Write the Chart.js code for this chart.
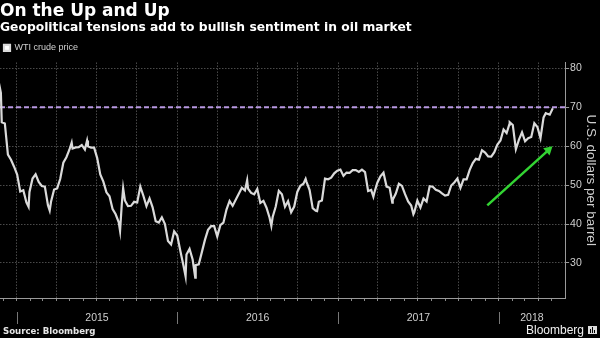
<!DOCTYPE html>
<html>
<head>
<meta charset="utf-8">
<script src="https://cdn.jsdelivr.net/npm/chart.js@4.4.1/dist/chart.umd.min.js"></script>
<style>
    html, body { margin: 0; padding: 0; background: #000; }
    #wrap { width: 600px; height: 338px; }
</style>
</head>
<body>
<div id="wrap"><canvas id="oilChart" width="600" height="338"></canvas></div>
<script>
// WTI crude, weekly closes starting Friday 21 Nov 2014
const weekStart = '2014-11-21';
const weeklyPrices = [
    76.51, 66.15, 65.84, 57.81, 56.52, 54.73,
    // 2015
    52.69, 48.36, 48.69, 45.59, 48.24, 51.69, 52.78, 50.81, 49.76, 49.61, 44.84, 45.72, 48.87,
    49.14, 51.64, 55.74, 57.15, 59.15, 59.39, 59.69, 59.72, 60.30, 59.13, 59.96, 59.61, 59.63,
    56.93, 52.74, 50.89, 48.14, 47.12, 43.87, 42.50, 40.45, 45.22, 46.05, 44.63, 44.68, 45.70,
    45.54, 49.63, 47.26, 44.60, 46.59, 44.29, 40.74, 40.39, 41.71, 39.97, 35.62, 34.73, 38.10,
    // 2016
    37.04, 33.16, 29.42, 32.19, 33.62, 30.89, 29.44, 29.64, 32.78, 35.92, 38.50, 39.44, 39.46,
    36.79, 39.72, 40.36, 43.73, 45.92, 44.66, 46.21, 47.75, 49.33, 48.62, 49.07, 47.98, 47.64,
    48.99, 45.41, 45.95, 44.19, 41.60, 41.80, 44.49, 48.52, 47.64, 44.44, 45.88, 43.03, 44.48,
    48.24, 49.81, 50.35, 50.85, 48.70, 44.07, 43.41, 45.69, 46.06, 51.68, 51.50, 51.90, 53.02, 53.72,
    // 2017
    53.99, 52.37, 53.22, 53.17, 53.83, 53.86, 53.40, 53.99, 53.33, 48.49, 48.78, 47.97, 50.60,
    52.24, 53.18, 49.62, 49.33, 46.22, 47.84, 50.33, 49.80, 47.66, 45.83, 44.74, 43.01, 46.04,
    44.23, 46.54, 45.77, 49.71, 49.58, 48.82, 48.51, 47.87, 47.29, 47.48, 49.89, 50.66, 51.67,
    49.29, 51.45, 51.47, 53.90, 55.64, 56.74, 56.55, 58.95, 58.36, 57.36, 57.30, 58.47, 60.42,
    // 2018
    61.44, 64.30, 63.37, 66.14, 65.45, 59.20, 61.68, 63.55, 61.25, 62.04, 62.34, 65.88, 64.94,
    62.06, 67.39, 68.38, 68.10, 69.72
];

// daily highs/lows between the weekly closes
const spikeDates = [
    '2014-11-26', '2015-01-28', '2015-03-17', '2015-05-06', '2015-06-10', '2015-08-24', '2015-08-31',
    '2016-01-20', '2016-02-11', '2016-06-08', '2016-08-02', '2016-10-19', '2016-11-14',
    '2017-03-22', '2017-05-04', '2017-06-21', '2018-01-25', '2018-04-18'
];
const spikePrices = [
    73.69, 44.45, 43.46, 60.93, 61.43, 38.24, 49.20,
    26.55, 26.21, 51.23, 39.51, 51.60, 43.32,
    47.04, 45.52, 42.53, 65.51, 68.47
];

const yearLabels = ['2015', '2016', '2017', '2018'];
const yTicks = [30, 40, 50, 60, 70, 80];
const refLevel = 70;
const arrowDates = ['2017-12-06', '2018-04-24'];
const arrowValues = [44.8, 59.0];

const toDay = s => (Date.parse(s) - Date.parse('2015-01-01')) / 864e5;
const xMin = toDay('2014-11-24');
const xMax = toDay('2018-06-01');

// merge weekly closes and spikes into one series
const startDay = toDay(weekStart);
const pricePoints = weeklyPrices.map((v, i) => ({ x: startDay + 7 * i, y: v }))
    .concat(spikeDates.map((d, i) => ({ x: toDay(d), y: spikePrices[i] })))
    .sort((a, b) => a.x - b.x);

// month ticks on the time axis, gridlines only at quarter starts
const monthTicks = [];
for (let y = 2014; y <= 2018; y++) {
    for (let m = 0; m < 12; m++) {
        const d = (Date.UTC(y, m, 1) - Date.parse('2015-01-01')) / 864e5;
        if (d > xMin && d < xMax) monthTicks.push({ value: d, q: m % 3 === 0 });
    }
}

const gridColor = '#4a4a4a';

const decor = {
    id: 'decor',
    afterDraw(chart) {
        const { ctx, chartArea, scales: { x } } = chart;
        ctx.save();
        // year labels and dividers
        ctx.font = '10.5px "Liberation Sans", Arial, sans-serif';
        ctx.fillStyle = '#cfcfcf';
        ctx.textAlign = 'center';
        ctx.textBaseline = 'middle';
        ctx.strokeStyle = '#777';
        ctx.lineWidth = 1;
        yearLabels.forEach(label => {
            const s = toDay(label + '-01-01');
            const e = toDay((+label + 1) + '-01-01');
            const px0 = x.getPixelForValue(Math.max(s, xMin));
            const px1 = x.getPixelForValue(Math.min(e, xMax));
            ctx.fillText(label, (px0 + px1) / 2, chartArea.bottom + 20);
            if (s > xMin) {
                const px = Math.round(x.getPixelForValue(s)) + 0.5;
                ctx.beginPath();
                ctx.moveTo(px, chartArea.bottom + 14);
                ctx.lineTo(px, chartArea.bottom + 26);
                ctx.stroke();
            }
        });
        // footer
        ctx.textAlign = 'left';
        ctx.fillStyle = '#e6e6e6';
        ctx.font = 'bold 8.6px "DejaVu Sans", sans-serif';
        ctx.fillText('Source: Bloomberg', 3, 331.5);
        ctx.textAlign = 'right';
        ctx.fillStyle = '#f0f0f0';
        ctx.font = '12px "Liberation Sans", Arial, sans-serif';
        ctx.fillText('Bloomberg', 584, 330.5);
        // logo mark
        ctx.fillStyle = '#dcdcdc';
        ctx.fillRect(588, 326, 9, 8);
        ctx.fillStyle = '#000';
        ctx.fillRect(590, 329, 1, 4);
        ctx.fillRect(592, 327, 1, 6);
        ctx.fillRect(594, 330, 1, 3);
        ctx.restore();
    }
};

const ctx = document.getElementById('oilChart').getContext('2d');
Chart.defaults.font.family = '"Liberation Sans", Arial, sans-serif';

const oilChart = new Chart(ctx, {
    type: 'line',
    data: {
        datasets: [
            {
                label: 'WTI crude price',
                data: pricePoints,
                borderColor: '#dadada',
                backgroundColor: '#ffffff',
                borderWidth: 2.2,
                pointRadius: 0,
                tension: 0
            },
            {
                label: 'level',
                data: [{ x: xMin, y: refLevel }, { x: xMax, y: refLevel }],
                borderColor: '#b898e2',
                borderWidth: 2,
                borderDash: [5, 3],
                pointRadius: 0
            },
            {
                label: 'arrow',
                data: arrowDates.map((d, i) => ({ x: toDay(d), y: arrowValues[i] })),
                borderColor: '#33d433',
                backgroundColor: '#33d433',
                borderWidth: 2.5,
                pointStyle: 'triangle',
                pointRadius: [0, 5.5],
                pointBorderWidth: 0,
                pointRotation: c => {
                    const { x, y } = c.chart.scales;
                    const dx = x.getPixelForValue(toDay(arrowDates[1])) - x.getPixelForValue(toDay(arrowDates[0]));
                    const dy = y.getPixelForValue(arrowValues[1]) - y.getPixelForValue(arrowValues[0]);
                    return Math.atan2(dx, -dy) * 180 / Math.PI;
                }
            }
        ]
    },
    options: {
        responsive: false,
        animation: false,
        layout: { autoPadding: false, padding: { left: 0, right: 1, top: 0, bottom: 37 } },
        plugins: {
            title: {
                display: true,
                text: 'On the Up and Up',
                align: 'start',
                color: '#ffffff',
                font: { family: '"DejaVu Sans", sans-serif', size: 17, weight: 'bold', lineHeight: 1.1 },
                padding: { top: 2, bottom: 0 }
            },
            subtitle: {
                display: true,
                text: 'Geopolitical tensions add to bullish sentiment in oil market',
                align: 'start',
                color: '#ffffff',
                font: { family: '"DejaVu Sans", sans-serif', size: 12.3, weight: 'bold', lineHeight: 1.2 },
                padding: { top: 0, bottom: 4 }
            },
            legend: {
                display: true,
                align: 'start',
                labels: {
                    color: '#d0d0d0',
                    font: { size: 9 },
                    boxWidth: 6,
                    boxHeight: 6,
                    padding: 4,
                    filter: item => item.datasetIndex === 0
                }
            },
            tooltip: { enabled: false }
        },
        scales: {
            x: {
                type: 'linear',
                min: xMin,
                max: xMax,
                afterBuildTicks: s => { s.ticks = monthTicks.map(t => ({ value: t.value, q: t.q })); },
                ticks: { display: false },
                grid: {
                    color: c => (c.tick && c.tick.q ? gridColor : 'transparent'),
                    tickColor: '#8a8a8a',
                    tickLength: 3,
                    tickBorderDash: []
                },
                border: { display: true, color: '#9a9a9a', dash: [1.5, 1.5] }
            },
            y: {
                position: 'right',
                min: 21,
                max: 81.5,
                afterBuildTicks: s => { s.ticks = yTicks.map(v => ({ value: v })); },
                ticks: { color: '#cfcfcf', font: { size: 10.5 }, padding: 1 },
                grid: { color: gridColor, tickColor: '#9a9a9a', tickLength: 4, tickBorderDash: [] },
                border: { display: true, color: '#9a9a9a', dash: [1.5, 1.5] },
                title: {
                    display: true,
                    text: 'U.S. dollars per barrel',
                    color: '#cfcfcf',
                    font: { size: 13.5 },
                    padding: 0
                }
            }
        }
    },
    plugins: [decor]
});
</script>
</body>
</html>
